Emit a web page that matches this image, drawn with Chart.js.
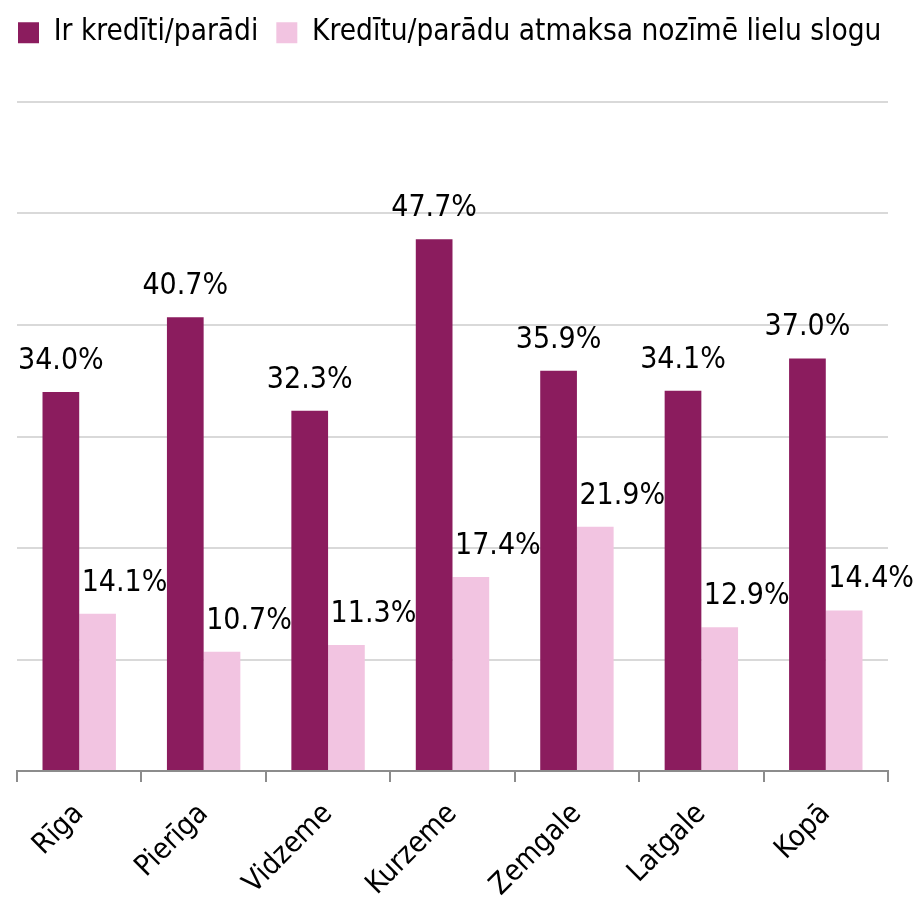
<!DOCTYPE html>
<html>
<head>
<meta charset="utf-8">
<script src="https://cdn.jsdelivr.net/npm/chart.js@4"></script>
<style>
  html, body { margin: 0; padding: 0; background: #fff; }
  #wrap { width: 915px; height: 899px; }
</style>
</head>
<body>
<div id="wrap"><canvas id="grafiks"></canvas></div>
<script>
// Dati
const regioni = ["Rīga", "Pierīga", "Vidzeme", "Kurzeme", "Zemgale", "Latgale", "Kopā"];
const irKrediti = [34.0, 40.7, 32.3, 47.7, 35.9, 34.1, 37.0];
const lielsSlogs = [14.1, 10.7, 11.3, 17.4, 21.9, 12.9, 14.4];
const serijuNosaukumi = ["Ir kredīti/parādi", "Kredītu/parādu atmaksa nozīmē lielu slogu"];

const fonts = '"Liberation Sans Narrow", "DejaVu Sans Condensed", "Roboto", sans-serif';

// Vērtību uzraksti virs stabiņiem
const vertibuUzraksti = {
  id: "vertibuUzraksti",
  afterDatasetsDraw(chart) {
    const ctx = chart.ctx;
    ctx.save();
    ctx.font = "30px " + fonts;
    ctx.fillStyle = "#000";
    ctx.textAlign = "center";
    ctx.textBaseline = "alphabetic";
    chart.data.datasets.forEach((ds, i) => {
      const meta = chart.getDatasetMeta(i);
      const nobide = i === 1 ? 27 : 0;
      meta.data.forEach((bar, j) => {
        ctx.fillText(ds.data[j].toFixed(1) + "%", bar.x + nobide, bar.y - 23);
      });
    });
    ctx.restore();
  }
};

// Leģendas augstums (līdz augšējai režģa līnijai)
const legendasAugstums = {
  id: "legendasAugstums",
  beforeInit(chart) {
    const fit = chart.legend.fit;
    chart.legend.fit = function () {
      fit.bind(chart.legend)();
      this.height = 102;
    };
  }
};

new Chart(document.getElementById("grafiks"), {
  type: "bar",
  data: {
    labels: regioni,
    datasets: [
      {
        label: serijuNosaukumi[0],
        data: irKrediti,
        backgroundColor: "#8b1c5e",
        categoryPercentage: 0.59,
        barPercentage: 1
      },
      {
        label: serijuNosaukumi[1],
        data: lielsSlogs,
        backgroundColor: "#f2c4e1",
        categoryPercentage: 0.59,
        barPercentage: 1
      }
    ]
  },
  options: {
    responsive: true,
    maintainAspectRatio: false,
    animation: false,
    layout: { padding: 0 },
    plugins: {
      legend: {
        position: "top",
        align: "start",
        labels: {
          font: { family: fonts, size: 29.5 },
          color: "#000",
          boxWidth: 21,
          boxHeight: 21,
          padding: 18
        }
      },
      tooltip: { enabled: false }
    },
    scales: {
      x: {
        border: { color: "#8c8c8c", width: 2 },
        grid: { drawOnChartArea: false, color: "#8c8c8c", tickLength: 11, lineWidth: 2 },
        ticks: {
          font: { family: fonts, size: 29 },
          color: "#000",
          maxRotation: 45,
          minRotation: 45,
          padding: 15
        },
        afterFit(scale) { scale.height = 128; }
      },
      y: {
        min: 0,
        max: 60,
        border: { display: false },
        grid: { color: "#d9d9d9", lineWidth: 2, drawTicks: false },
        ticks: { display: false, stepSize: 10 },
        afterFit(scale) { scale.width = 17; }
      },
      labasMala: {
        position: "right",
        display: true,
        border: { display: false },
        grid: { display: false },
        ticks: { display: false },
        afterFit(scale) { scale.width = 27; }
      }
    }
  },
  plugins: [vertibuUzraksti, legendasAugstums]
});
</script>
</body>
</html>
